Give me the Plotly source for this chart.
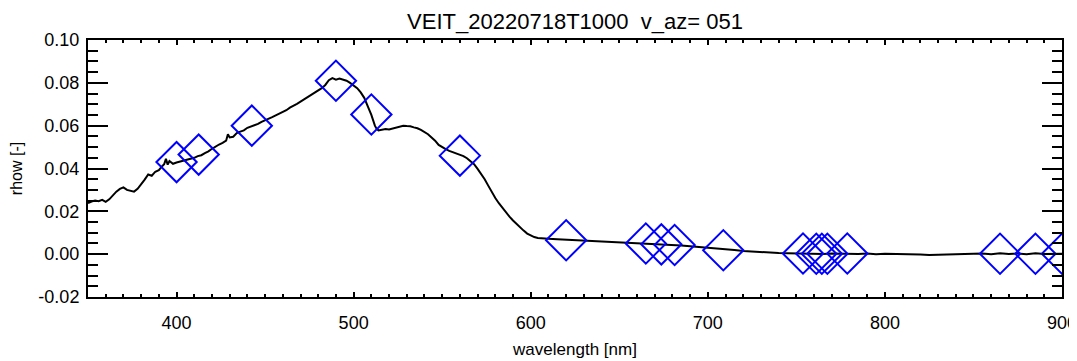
import plotly.graph_objects as go

# ---- spectrum ----
wavelength = [
    350, 352, 354, 356, 358, 360, 362, 364, 366, 368, 370, 372, 374, 376, 378,
    380, 382, 384, 386, 388, 390, 392, 393, 394, 395, 396, 398, 400, 402, 404,
    406, 408, 410, 412, 414, 416, 418, 420, 422, 424, 426, 428, 429, 430, 432,
    434, 436, 438, 440, 442, 444, 446, 448, 450, 452, 454, 456, 458, 460, 462,
    464, 466, 468, 470, 472, 474, 476, 478, 480, 482, 484, 486, 488, 490, 492,
    494, 496, 498, 500, 502, 504, 506, 508, 510, 512, 513, 514, 516, 518, 520,
    522, 524, 526, 528, 530, 532, 534, 536, 538, 540, 542, 544, 546, 548, 550,
    552, 554, 556, 558, 560, 562, 564, 566, 568, 570, 572, 574, 576, 578, 580,
    582, 584, 586, 588, 590, 592, 594, 596, 598, 600, 602, 604, 606, 610, 615,
    620, 625, 630, 635, 640, 645, 650, 655, 660, 665, 670, 675, 680, 685, 690,
    695, 700, 705, 710, 715, 720, 725, 730, 735, 740, 745, 750, 755, 760, 765,
    770, 775, 780, 785, 790, 795, 800, 805, 810, 815, 820, 825, 830, 835, 840,
    845, 850, 855, 860, 865, 870, 875, 880, 885, 890, 895, 900,
]
rhow = [
    0.0238, 0.0246, 0.0250, 0.0247, 0.0254, 0.0244, 0.0256, 0.0275, 0.0292, 0.0305,
    0.0312, 0.0300, 0.0296, 0.0292, 0.0305, 0.0325, 0.0348, 0.0372, 0.0366, 0.0385,
    0.0392, 0.0412, 0.0420, 0.0445, 0.0418, 0.0435, 0.0422, 0.0428, 0.0432, 0.0436,
    0.0440, 0.0446, 0.0450, 0.0458, 0.0462, 0.0472, 0.0480, 0.0492, 0.0504, 0.0512,
    0.0520, 0.0530, 0.0560, 0.0545, 0.0548, 0.0565, 0.0572, 0.0578, 0.0590, 0.0595,
    0.0602, 0.0608, 0.0618, 0.0625, 0.0630, 0.0640, 0.0648, 0.0656, 0.0665, 0.0672,
    0.0684, 0.0692, 0.0702, 0.0712, 0.0722, 0.0732, 0.0742, 0.0752, 0.0762, 0.0775,
    0.0790, 0.0812, 0.0822, 0.0815, 0.0820, 0.0815, 0.0810, 0.0800, 0.0788, 0.0775,
    0.0755, 0.0730, 0.0690, 0.0650, 0.0600, 0.0585, 0.0578, 0.0580, 0.0584, 0.0582,
    0.0586, 0.0590, 0.0595, 0.0600, 0.0598, 0.0597, 0.0592, 0.0588, 0.0580, 0.0570,
    0.0560, 0.0545, 0.0530, 0.0510, 0.0498, 0.0490, 0.0482, 0.0476, 0.0470, 0.0466,
    0.0458, 0.0448, 0.0436, 0.0420, 0.0398, 0.0375, 0.0350, 0.0320, 0.0290, 0.0262,
    0.0238, 0.0215, 0.0195, 0.0175, 0.0157, 0.0140, 0.0125, 0.0110, 0.0096, 0.0086,
    0.0080, 0.0076, 0.0074, 0.0072, 0.0070, 0.0068, 0.0066, 0.0063, 0.0060, 0.0058,
    0.0056, 0.0054, 0.0052, 0.0050, 0.0049, 0.0047, 0.0046, 0.0044, 0.0041, 0.0037,
    0.0034, 0.0030, 0.0027, 0.0023, 0.0019, 0.0015, 0.0012, 0.0009, 0.0007, 0.0005,
    0.0004, 0.0003, 0.0002, 0.0004, 0.0001, 0.0003, 0.0002, 0.0004, 0.0001, 0.0003,
    0.0000, 0.0002, 0.0001, 0.0003, 0.0000, -0.0002, -0.0004, -0.0003, -0.0001, 0.0000,
    0.0002, 0.0001, 0.0003, 0.0000, 0.0004, 0.0001, 0.0003, 0.0000, 0.0004, 0.0001,
    0.0003, 0.0002,
]

# ---- band values (diamonds) ----
band_wl = [400, 412.5, 442.5, 490, 510, 560, 620, 665, 673.75, 681.25, 708.75,
           753.75, 761.25, 764.375, 767.5, 778.75, 865, 885, 900]
band_rhow = [0.0430, 0.0465, 0.0600, 0.0810, 0.0652, 0.0460, 0.0065, 0.0050, 0.0046,
             0.0043, 0.0018, 0.0003, 0.0002, 0.0002, 0.0002, 0.0003, 0.0002, 0.0002, 0.0002]

title_text = "VEIT_20220718T1000  v_az= 051"
x_ticks = [400, 500, 600, 700, 800, 900]
y_ticks = [-0.02, 0.00, 0.02, 0.04, 0.06, 0.08, 0.10]
y_tick_labels = ["-0.02", "0.00", "0.02", "0.04", "0.06", "0.08", "0.10"]

FONT = "Liberation Sans, Arial, Helvetica, sans-serif"

# The page body adds an 8 px margin, so the figure is sized to fit the window.
W, H = 1069, 353

fig = go.Figure()
fig.add_trace(go.Scatter(x=wavelength, y=rhow, mode="lines",
                         line=dict(color="black", width=2), showlegend=False))
fig.add_trace(go.Scatter(x=band_wl, y=band_rhow, mode="markers",
                         marker=dict(symbol="diamond-open", size=31,
                                     line=dict(color="#0000FF", width=2), color="#0000FF"),
                         showlegend=False))

fig.update_layout(
    width=W, height=H,
    margin=dict(l=80, r=15, t=32, b=64),
    paper_bgcolor="white", plot_bgcolor="white",
    font=dict(family=FONT, color="black", size=18),
    title=dict(text=title_text, x=567 / W, xanchor="center", xref="container",
               y=1 - 13 / H, yanchor="middle", yref="container",
               font=dict(size=22, family=FONT, color="black")),
)
fig.update_xaxes(
    range=[350, 900], tickvals=x_ticks, ticks="inside", ticklen=5, tickwidth=1.5,
    tickcolor="black", showline=True, linewidth=2, linecolor="black", mirror="ticks",
    showgrid=False, zeroline=False, tickfont=dict(size=18), automargin=False,
    ticklabelstandoff=8, ticklabeloverflow="allow",
    minor=dict(dtick=10, ticks="inside", ticklen=3, tickwidth=1.5, tickcolor="black", showgrid=False),
    title=dict(text="wavelength [nm]", font=dict(size=17), standoff=12),
)
fig.update_yaxes(
    range=[-0.02, 0.10], tickvals=y_ticks, ticktext=y_tick_labels, ticks="inside",
    ticklen=20, tickwidth=1.5, tickcolor="black", showline=True, linewidth=2,
    linecolor="black", mirror="ticks", showgrid=False, zeroline=False,
    tickfont=dict(size=18), ticklabelstandoff=3, automargin=False,
    ticklabeloverflow="allow",
    minor=dict(dtick=0.005, tick0=0, ticks="inside", ticklen=10, tickwidth=1.5, tickcolor="black", showgrid=False),
    title=dict(text="rhow [-]", font=dict(size=16), standoff=13),
)

fig.write_html("out.html")
